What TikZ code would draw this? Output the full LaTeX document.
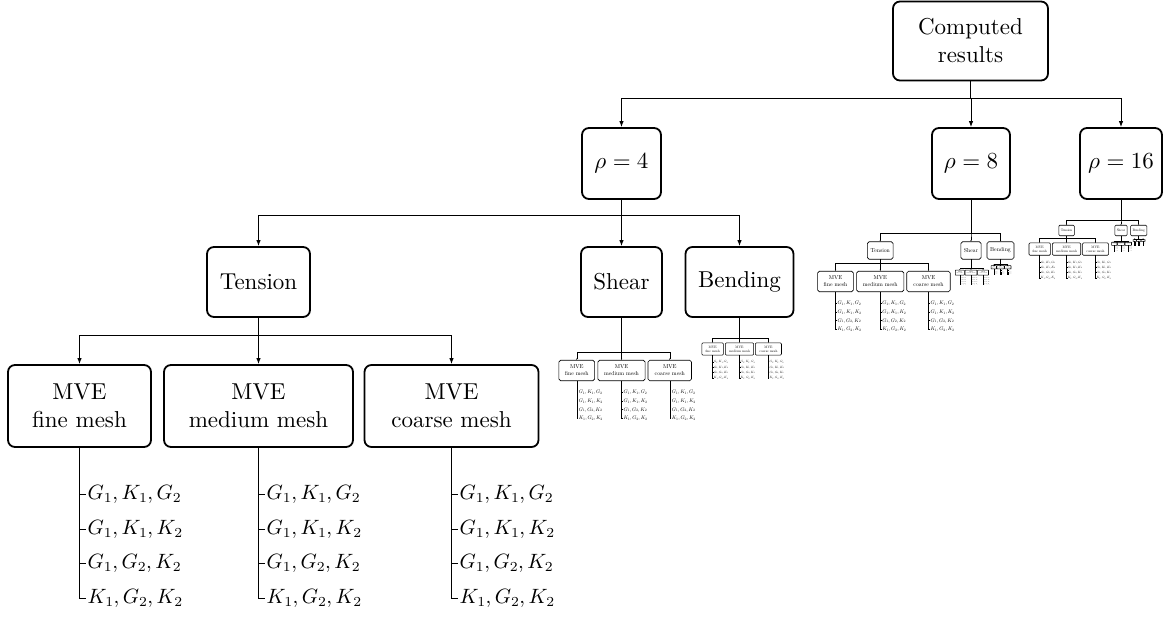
\documentclass[tikz,border=0pt]{standalone}
\usepackage{fontspec}
\setmainfont{lmroman10}[Extension=.otf, UprightFont=*-regular, BoldFont=*-bold, ItalicFont=*-italic]
\DeclareFontShape{OML}{cmm}{m}{it}{<-13> cmmi5 <13-18> cmmi7 <18-> cmmi10}{}
\DeclareFontShape{OT1}{cmr}{m}{n}{<-13> cmr5 <13-18> cmr7 <18-> cmr10}{}
\DeclareFontShape{OMS}{cmsy}{m}{n}{<-13> cmsy5 <13-18> cmsy7 <18-> cmsy10}{}
\DeclareMathSizes{23}{23}{16.1}{11.5}
\DeclareMathSizes{20.7}{20.7}{13.8}{11.5}
\usetikzlibrary{arrows.meta}
\newcommand\zzfont{\fontsize{23}{28}\selectfont}
\newcommand\zzleaffont{\fontsize{20.7}{24.8}\selectfont}
\newcommand\setS[1]{%
  \pgfmathsetmacro\zzS{#1}%
  \pgfmathsetmacro\zzBW{max(1.8*\zzS,0.55)}%
  \pgfmathsetmacro\zzEW{max(0.9*\zzS,0.5)}%
  \pgfmathsetmacro\zzAL{max(6*\zzS,1.0)}%
  \pgfmathsetmacro\zzAW{max(4.5*\zzS,1.0)}%
  \pgfmathsetmacro\zzRC{7*\zzS}}
\tikzset{
  box/.style={draw, rounded corners=\zzRC pt, line width=\zzBW pt, align=center, inner sep=0pt, font=\zzfont},
  edge/.style={line width=\zzEW pt, -{Latex[length=\zzAL pt,width=\zzAW pt]}},
  link/.style={line width=\zzEW pt},
  leaf/.style={inner sep=2pt, anchor=west, font=\zzleaffont},
}
% group of three MVE nodes below parent #1; #2 = position of the middle box, #3 = relative scale
\newcommand\mvegroup[3]{%
  \begin{scope}[shift={#2},scale=#3]\setS{\zzS*#3}%
  \node[box, minimum width=143, minimum height=82] (#1f) at (-179,0) {MVE\\fine mesh};
  \node[box, minimum width=189, minimum height=82] (#1m) at (0,0) {MVE\\medium mesh};
  \node[box, minimum width=174, minimum height=82] (#1c) at (193,0) {MVE\\coarse mesh};
  \coordinate (#1fork) at (0,-71);
  \foreach \zb/\zx in {f/-179,m/0,c/193}{%
    \foreach \zi/\zy/\zl in {1/88/{G_1, K_1, G_2},2/123/{G_1, K_1, K_2},3/157/{G_1, G_2, K_2},4/192/{K_1, G_2, K_2}}{%
      \node[leaf] (#1\zb\zi) at (\zx+6,\zy) {$\zl$};
    }%
  }%
  \end{scope}
  \begin{scope}\setS{\zzS*#3}%
  \foreach \zb in {f,m,c}{%
    \draw[edge] (#1.south) -- (#1fork) -| (#1\zb.north);
    \foreach \zi in {1,2,3,4}{\draw[link] (#1\zb.south) |- (#1\zb\zi.west);}%
  }%
  \end{scope}
}
% subtree below a rho node #1; origin = centre of the Shear node
\newcommand\rhosub[1]{%
  \node[box, minimum width=103, minimum height=70] (#1T) at (-363,0) {Tension};
  \node[box, minimum width=81, minimum height=70] (#1S) at (0,0) {Shear};
  \node[box, minimum width=108, minimum height=70] (#1B) at (118,0) {Bending};
  \coordinate (#1fork) at (0,-67);
  \foreach \zb in {T,S,B}{\draw[edge] (#1.south) -- (#1fork) -| (#1\zb.north);}
  \mvegroup{#1T}{(-363,124)}{1}
  \mvegroup{#1S}{(0,88.5)}{0.25}
  \mvegroup{#1B}{(118,67)}{0.15}
}
\begin{document}
\begin{tikzpicture}[x=1pt,y=-1pt,transform shape]
\setS{1}
\useasboundingbox (0,0) rectangle (1163,617);
\node[box, minimum width=155, minimum height=79] (cr) at (970.5,41) {Computed\\results};
\node[box, minimum width=79, minimum height=71] (r4) at (621.5,163.5) {$\rho = 4$};
\node[box, minimum width=78, minimum height=71] (r8) at (971,163.5) {$\rho = 8$};
\node[box, minimum width=82, minimum height=71] (r16) at (1121,163.5) {$\rho = 16$};
\coordinate (crfork) at (970.5,98);
\foreach \zb in {r4,r8,r16}{\draw[edge] (cr.south) -- (crfork) -| (\zb.north);}
\begin{scope}[shift={(621.5,282)}]\rhosub{r4}\end{scope}
\begin{scope}[shift={(971,250.5)},scale=0.25]\setS{0.25}\rhosub{r8}\end{scope}
\begin{scope}[shift={(1121,230.5)},scale=0.15]\setS{0.15}\rhosub{r16}\end{scope}
\end{tikzpicture}
\end{document}
